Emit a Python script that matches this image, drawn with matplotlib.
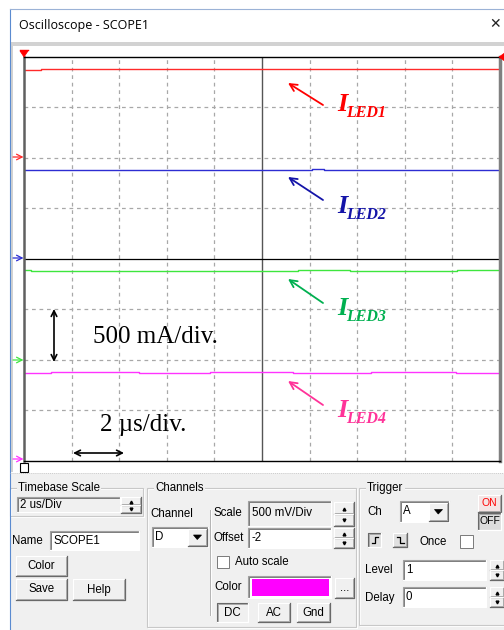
import numpy as np
import matplotlib
matplotlib.use('Agg')
from matplotlib import pyplot as plt
from matplotlib.patches import Rectangle, Polygon

W, H = 504, 630

# time axis: 10 div x 2 us
t_end = 20.0
# step traces: breakpoints (us) and levels (V), 500 mV/div
t_red = [0, 0.7, 12.4, 14.2, 19.2, 20]
v_red = [0.875, 0.885, 0.877, 0.885, 0.877]
t_blue = [0, 12.1, 12.6, 20]
v_blue = [0.884, 0.893, 0.884]
t_green = [0, 0.3, 11.5, 13.7, 18.2, 20]
v_green = [0.888, 0.880, 0.890, 0.885, 0.890]
t_mag = [0, 1.13, 4.83, 7.8, 11.3, 14.6, 18.15, 20]
v_mag = [0.872, 0.880, 0.868, 0.878, 0.870, 0.880, 0.872]

ch_names = ['A', 'B', 'C', 'D']
ch_offset = [1, 0, -1, -2]      # V
ch_scale = 0.5                  # V/div
line_colors = ['#ff2a2a', '#2d2dd2', '#3ee63e', '#ff33ff']
label_colors = ['#ff0000', '#1414a8', '#00b050', '#ff3399']
labels = ['LED1', 'LED2', 'LED3', 'LED4']

GUI = 'Liberation Sans'
SERIF = 'Liberation Serif'

fig = plt.figure(figsize=(W / 100, H / 100), dpi=100)
fig.patch.set_facecolor('white')

# ---------- scope screen ----------
ax = fig.add_axes([24 / W, 1 - 461 / H, 476 / W, 404 / H], zorder=2)
ax.set_xlim(0, t_end)
ax.set_ylim(-4, 4)
ax.set_facecolor('white')
ax.set_xticks([]); ax.set_yticks([])
for i in range(1, 10):
    if i == 5:
        ax.axvline(i * 2, color='#555555', lw=1.0)
    else:
        ax.axvline(i * 2, color='#a8a8a8', lw=0.9, ls=(0, (3, 3)))
for j in range(-3, 4):
    if j == 0:
        ax.axhline(0, color='black', lw=0.9)
    else:
        ax.axhline(j, color='#a8a8a8', lw=0.9, ls=(0, (3, 3)))
ax.spines['top'].set_color('black'); ax.spines['top'].set_linewidth(1.0)
ax.spines['bottom'].set_color('black'); ax.spines['bottom'].set_linewidth(1.0)
ax.spines['left'].set_color('#606060'); ax.spines['left'].set_linewidth(1.8)
ax.spines['right'].set_color('#808080'); ax.spines['right'].set_linewidth(2.5)

traces = [(t_red, v_red), (t_blue, v_blue), (t_green, v_green), (t_mag, v_mag)]
for k, (tt, vv) in enumerate(traces):
    vv = np.array(vv + [vv[-1]])
    ax.step(tt, (vv + ch_offset[k]) / ch_scale, where='post',
            color=line_colors[k], lw=1.0)

# ---------- GUI overlay in pixel coords ----------
ui = fig.add_axes([0, 0, 1, 1], zorder=5)
ui.set_xlim(0, W); ui.set_ylim(H, 0)
ui.axis('off'); ui.patch.set_alpha(0)


def rect(x0, y0, x1, y1, fc='none', ec='none', lw=0.7, z=1):
    ui.add_patch(Rectangle((x0, y0), x1 - x0, y1 - y0, fc=fc, ec=ec, lw=lw, zorder=z))


def txt(x, y, s, size=8.3, color='black', ha='left', **kw):
    ui.text(x, y, s, fontsize=size, color=color, ha=ha, va='center',
            family=GUI, zorder=6, **kw)


def sunken(x0, y0, x1, y1, fc='white'):
    rect(x0, y0, x1, y1, fc=fc, z=2)
    ui.plot([x0, x0, x1], [y1, y0, y0], color='#a0a0a0', lw=0.8, zorder=3)
    ui.plot([x0 + 1, x0 + 1, x1 - 1], [y1 - 1, y0 + 1, y0 + 1], color='#696969', lw=0.6, zorder=3)
    ui.plot([x0, x1, x1], [y1, y1, y0], color='white', lw=0.8, zorder=3)


def button(x0, y0, x1, y1, s='', pressed=False, size=8.3, color='black', fc='#f0f0f0'):
    rect(x0, y0, x1, y1, fc=fc, z=2)
    hi, lo = ('#696969', 'white') if pressed else ('white', '#696969')
    ui.plot([x0, x0, x1], [y1, y0, y0], color=hi, lw=0.8, zorder=3)
    ui.plot([x0, x1, x1], [y1, y1, y0], color=lo, lw=0.9, zorder=3)
    if pressed:
        ui.plot([x0 + 1, x0 + 1, x1 - 1], [y1 - 1, y0 + 1, y0 + 1], color='#a0a0a0', lw=0.6, zorder=3)
    else:
        ui.plot([x0 + 1, x1 - 1, x1 - 1], [y1 - 1, y1 - 1, y0 + 1], color='#a0a0a0', lw=0.6, zorder=3)
    if s:
        txt((x0 + x1) / 2, (y0 + y1) / 2, s, size=size, color=color, ha='center')


def spin(x0, y0, x1, y1):
    ym = (y0 + y1) / 2
    button(x0, y0, x1, ym)
    button(x0, ym, x1, y1)
    xm = (x0 + x1) / 2
    ui.plot([xm], [(y0 + ym) / 2 + 0.5], marker='^', ms=2, color='black', zorder=6)
    ui.plot([xm], [(ym + y1) / 2], marker='v', ms=2, color='black', zorder=6)


def dropdown(x0, y0, x1, y1, s):
    sunken(x0, y0, x1, y1)
    txt(x0 + 3, (y0 + y1) / 2, s)
    bx = x1 - 20
    button(bx, y0 + 1.5, x1 - 1.5, y1 - 1.5)
    ui.add_patch(Polygon([[bx + 5.5, (y0 + y1) / 2 - 2], [x1 - 6.5, (y0 + y1) / 2 - 2],
                          [(bx + x1 - 1.5) / 2, (y0 + y1) / 2 + 2.5]], fc='black', ec='black', lw=0.5, zorder=6))


def group(x0, y0, x1, y1, s):
    rect(x0 + 1, y0 + 1, x1 + 1, y1 + 1, ec='white', lw=0.8, z=1.5)
    rect(x0, y0, x1, y1, ec='#c8c8c8', lw=0.8, z=1.6)
    ui.text(x0 + 8, y0, s, fontsize=8.3, family=GUI, va='center', ha='left', zorder=6,
            bbox=dict(fc='#f0f0f0', ec='none', pad=1.0))


def checkbox(x0, y0, x1, y1):
    rect(x0, y0, x1, y1, fc='white', ec='#7a7a7a', lw=0.7, z=3)


# window frame and title bar
ui.plot([9.5, 9.5], [9, H], color='#5b8bd0', lw=0.8)
ui.plot([9.5, W], [9, 9], color='#9bb2d6', lw=0.8)
ui.text(19, 25, 'Oscilloscope - SCOPE1', fontsize=9, family='Open Sans', va='center', ha='left')
ui.text(495, 24.5, '\u2715', fontsize=10, family='DejaVu Sans', va='center', ha='center', color='#222222')
rect(10, 42, W, 46, fc='#d2d2d2')
rect(10, 46, 12.5, 472, fc='#d2d2d2')
ui.plot([10, W], [472.5, 472.5], color='#c0c0c0', lw=0.6, ls=(0, (1, 1.5)))

# channel markers
rows = [157, 258, 360, 459]
for k, yy in enumerate(rows):
    ui.annotate('', xy=(23.5, yy), xytext=(13, yy),
                arrowprops=dict(arrowstyle='->', color=line_colors[k], lw=0.9,
                                mutation_scale=10, shrinkA=0, shrinkB=0))
ui.add_patch(Polygon([[20, 51], [28, 51], [24, 57]], fc='red', ec='red', lw=0.5, zorder=6))
ui.plot([20, 28], [50, 50], color='red', lw=1.0, zorder=6)
ui.add_patch(Polygon([[499, 57], [506, 52], [506, 62]], fc='red', ec='red', lw=0.5, zorder=6))
rect(19.5, 462.5, 28, 471.5, fc='white', ec='black', lw=0.8, z=6)

# annotation arrows and labels
lab_pos = [(111, 105, 83), (213, 200, 177), (315, 303, 279), (417, 405, 381)]
for k, (yb, ytail, yhead) in enumerate(lab_pos):
    c = label_colors[k]
    ui.annotate('', xy=(288, yhead), xytext=(323, ytail),
                arrowprops=dict(arrowstyle='->', color=c, lw=1.3,
                                mutation_scale=13, shrinkA=0, shrinkB=0))
    ui.text(337, yb, 'I', fontsize=19, family=SERIF, weight='bold', style='italic',
            color=c, ha='left', va='baseline')
    ui.text(346, yb + 6, labels[k], fontsize=11.5, family=SERIF, weight='bold',
            style='italic', color=c, ha='left', va='baseline')

ui.annotate('', xy=(54, 309), xytext=(54, 362),
            arrowprops=dict(arrowstyle='<->', color='black', lw=1.2,
                            mutation_scale=10, shrinkA=0, shrinkB=0))
ui.annotate('', xy=(73, 453), xytext=(124, 453),
            arrowprops=dict(arrowstyle='<->', color='black', lw=1.2,
                            mutation_scale=10, shrinkA=0, shrinkB=0))
ui.text(93, 337, '500 mA/div.', fontsize=18, family=SERIF, ha='left', va='center')
ui.text(100, 425, '2 \u00b5s/div.', fontsize=18, family=SERIF, ha='left', va='center')

# ---------- control panel ----------
rect(10, 473, W, H, fc='#f0f0f0', z=0.5)

group(10, 488, 143, 516, 'Timebase Scale')
sunken(17, 497, 120, 512, fc='#f0f0f0')
txt(20, 504.5, '2 us/Div')
spin(121, 497, 141, 513)
txt(12, 541, 'Name')
sunken(50, 531, 139, 550)
txt(54, 540.5, 'SCOPE1')
button(16, 556, 67, 576, 'Color')
button(16, 579, 67, 600, 'Save')
button(73, 579, 125, 600, 'Help')

group(147, 488, 356, 627, 'Channels')
txt(150, 514, 'Channel')
dropdown(152, 527, 208, 547, 'D')
ui.plot([210, 210], [510, 615], color='#b4b4b4', lw=0.7)
ui.plot([211, 211], [510, 615], color='white', lw=0.7)
txt(214, 513, 'Scale')
sunken(248, 501, 331, 526, fc='#f0f0f0')
txt(252, 513.5, '500 mV/Div')
spin(334, 502, 354, 526)
txt(214, 538, 'Offset')
sunken(248, 528, 331, 548)
txt(251, 538, '-2')
spin(334, 528, 354, 548)
checkbox(217, 556, 229, 568)
txt(235, 562, 'Auto scale')
txt(214, 587, 'Color')
sunken(248, 576, 331, 598)
rect(252, 578.5, 329, 596, fc='#ff00ff', z=4)
button(335, 578, 354, 598, '...')
button(217, 603, 248, 622, 'DC', pressed=True)
button(258, 603, 290, 622, 'AC')
button(297, 603, 330, 622, 'Gnd')

group(359, 488, 520, 625, 'Trigger')
txt(367, 512, 'Ch')
dropdown(400, 501, 449, 522, 'A')
button(478, 495, 501, 512, 'ON', size=7.5, color='#ff0000', fc='#f4e4e4')
button(478, 513, 501, 530, 'OFF', pressed=True, size=7.5, fc='#dcdcdc')
button(368, 533, 381, 547, pressed=True, fc='#e0e0e0')
button(393, 533, 407, 547, fc='#e0e0e0')
ui.plot([371.5, 374.5, 374.5, 378], [543, 543, 537, 537], color='black', lw=0.9, zorder=6)
ui.plot([396.5, 400, 400, 403.5], [537, 537, 543, 543], color='black', lw=0.9, zorder=6)
txt(420, 542, 'Once')
checkbox(460, 535, 473, 548)
txt(365, 570, 'Level')
sunken(403, 560, 486, 580)
txt(406, 570, '1')
spin(490, 560, 504, 580)
txt(365, 598, 'Delay')
sunken(403, 587, 486, 607)
txt(406, 597, '0')
spin(490, 587, 504, 607)

fig.savefig('out.png', dpi=100, facecolor='white')
